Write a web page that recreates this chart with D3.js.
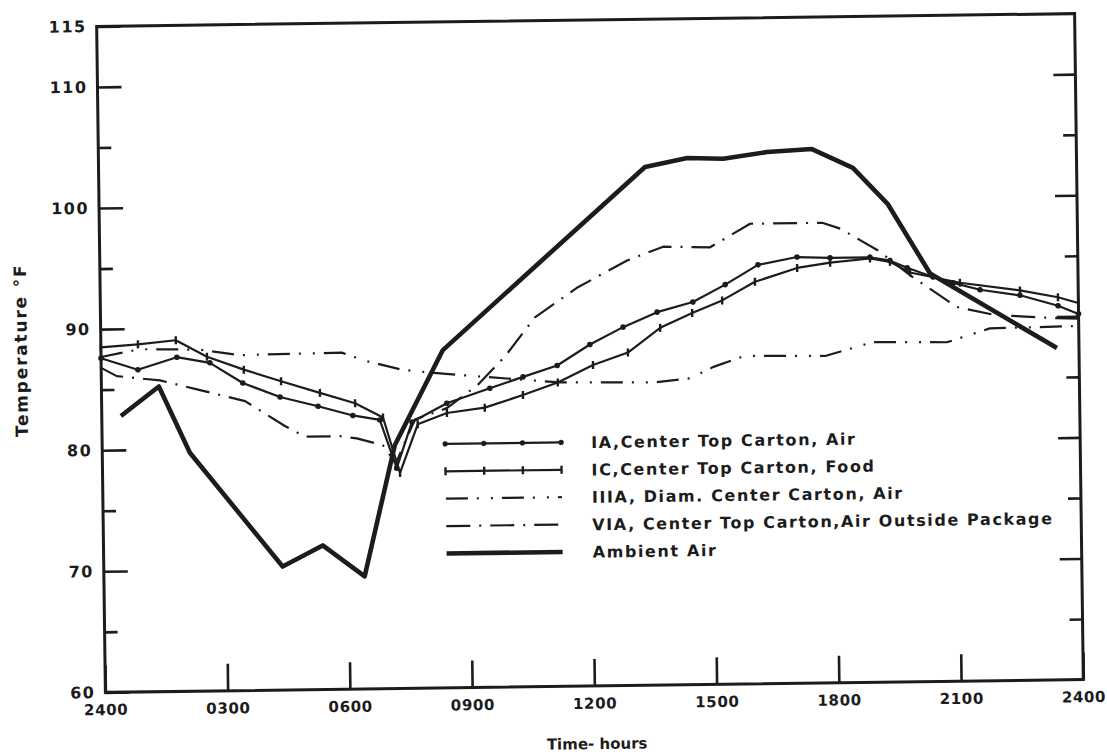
<!DOCTYPE html>
<html>
<head>
<meta charset="utf-8">
<script src="https://cdn.jsdelivr.net/npm/d3@7"></script>
<style>
  html, body { margin: 0; padding: 0; background: #fff; }
  svg { display: block; }
</style>
</head>
<body>
<svg id="chart" width="1107" height="754"></svg>
<script>
// ---- axis ticks -------------------------------------------------------
const hourTicks  = [0, 3, 6, 9, 12, 15, 18, 21, 24];
const hourLabels = ["2400", "0300", "0600", "0900", "1200", "1500", "1800", "2100", "2400"];
const tempMajorTicks = [60, 70, 80, 90, 100, 110, 115];
const tempMinorTicks = [65, 75, 85, 95, 105];
const tempRightMajor = [70, 80, 90, 100, 110];

// ---- series: time of day (hours after midnight) and temperature (°F) ----
const iaHours = [0, 0.9, 1.86, 2.67, 3.47, 4.38, 5.31, 6.16, 6.82, 7.22, 7.61, 8.47, 9.53, 10.35, 11.19, 12.0,
                 12.82, 13.66, 14.54, 15.34, 16.15, 17.11, 17.92, 18.9, 19.39, 19.81, 20.44, 20.93, 21.59, 22.57, 23.5, 24];
const iaTemps = [87.6, 86.6, 87.6, 87.1, 85.4, 84.2, 83.4, 82.6, 82.2, 78.2, 82.0, 83.5, 84.7, 85.6, 86.5, 88.2,
                 89.6, 90.8, 91.6, 93.0, 94.6, 95.2, 95.1, 95.1, 94.8, 94.2, 93.4, 92.9, 92.3, 91.8, 90.9, 90.2];

const icHours = [0, 0.91, 1.84, 2.6, 3.5, 4.41, 5.36, 6.22, 6.9, 7.3, 7.75, 8.47, 9.4, 10.34, 11.2,
                 12.07, 12.93, 13.73, 14.52, 15.26, 16.07, 17.11, 17.92, 18.9, 19.39, 19.88, 21.1, 22.57, 23.5, 24];
const icTemps = [88.5, 88.7, 89.0, 87.6, 86.5, 85.5, 84.5, 83.6, 82.4, 77.8, 81.8, 82.7, 83.1, 84.1, 85.1,
                 86.5, 87.5, 89.5, 90.7, 91.7, 93.2, 94.3, 94.7, 95.0, 94.7, 93.8, 92.9, 92.2, 91.6, 91.1];

const iiiaHours = [0, 0.96, 2.43, 3.41, 5.91, 6.48, 7.41, 8.24, 8.88, 11.25, 13.54, 14.45, 15.01, 15.8,
                   17.77, 18.95, 20.76, 21.82, 24];
const iiiaTemps = [87.7, 88.3, 88.2, 87.7, 87.8, 87.1, 86.3, 86.0, 85.8, 85.1, 85.0, 85.3, 86.2, 87.1,
                   87.0, 88.1, 88.0, 89.1, 89.2];

const viaHours = [0, 0.38, 1.44, 2.37, 3.52, 4.49, 4.98, 5.84, 6.25, 6.89, 7.2, 7.68, 8.47, 9.24, 9.91,
                  10.66, 11.7, 12.94, 13.83, 14.98, 15.97, 17.74, 18.18, 19.08, 19.95, 21.02, 21.95, 23.3, 24];
const viaTemps = [86.8, 86.1, 85.7, 84.9, 83.9, 81.8, 80.9, 80.9, 80.7, 80.1, 78.6, 82.2, 83.1, 85.0, 87.3,
                  90.5, 92.9, 95.1, 96.2, 96.1, 98.0, 98.0, 97.5, 95.7, 93.4, 90.9, 90.2, 89.9, 89.8];

const ambientHours = [0.47, 1.41, 2.15, 4.39, 5.38, 6.4, 7.18, 8.39, 13.41, 14.45, 15.33, 16.41, 17.51,
                      18.51, 19.35, 20.37, 23.46];
const ambientTemps = [82.8, 85.2, 79.7, 70.2, 71.9, 69.3, 80.1, 87.9, 102.8, 103.5, 103.4, 103.9, 104.1,
                      102.5, 99.5, 93.7, 87.4];

const legendLabels = [
  "IA,Center Top Carton, Air",
  "IC,Center Top Carton, Food",
  "IIIA, Diam. Center Carton, Air",
  "VIA, Center Top Carton,Air Outside Package",
  "Ambient Air"
];

// ---- drawing ----------------------------------------------------------
const ink = "#1c1c1c";
const font = "'DejaVu Sans', Verdana, sans-serif";

const series = [
  { hours: iaHours,      temps: iaTemps,      width: 2.2, dash: null,               marker: "dot"  },
  { hours: icHours,      temps: icTemps,      width: 2.2, dash: null,               marker: "tick" },
  { hours: iiiaHours,    temps: iiiaTemps,    width: 2.2, dash: "22,9,2,12,2,9",    marker: null   },
  { hours: viaHours,     temps: viaTemps,     width: 2.2, dash: "24,9,2,9",         marker: null   },
  { hours: ambientHours, temps: ambientTemps, width: 4.6, dash: null,               marker: null   }
];

const svg = d3.select("#chart");
const frame = { left: 101, right: 1079, top: 20, bottom: 686 };

const x = d3.scaleLinear().domain([0, 24]).range([frame.left, frame.right]);
const y = d3.scaleLinear().domain([60, 115]).range([frame.bottom, frame.top]);

// the whole sheet sits slightly tilted
const g = svg.append("g").attr("transform", "rotate(-0.75,590,353)");

function styleAxis(sel, size, spacing) {
  sel.attr("font-family", font).attr("font-size", size).attr("font-weight", "bold");
  sel.select(".domain").remove();
  sel.selectAll(".tick line").attr("stroke", ink).attr("stroke-width", 2.6);
  sel.selectAll(".tick text").attr("fill", ink).attr("letter-spacing", spacing);
}

// left axis
g.append("g")
  .attr("transform", `translate(${frame.left},0)`)
  .call(d3.axisLeft(y).tickValues(tempMajorTicks).tickSizeInner(-24).tickSizeOuter(0).tickPadding(10))
  .call(s => styleAxis(s, 16, 1.5));
g.append("g")
  .attr("transform", `translate(${frame.left},0)`)
  .call(d3.axisLeft(y).tickValues(tempMinorTicks).tickSizeInner(-13).tickSizeOuter(0).tickFormat(""))
  .call(s => styleAxis(s, 16, 0));

// right axis (ticks only)
g.append("g")
  .attr("transform", `translate(${frame.right},0)`)
  .call(d3.axisRight(y).tickValues(tempRightMajor).tickSizeInner(-22).tickSizeOuter(0).tickFormat(""))
  .call(s => styleAxis(s, 16, 0));
g.append("g")
  .attr("transform", `translate(${frame.right},0)`)
  .call(d3.axisRight(y).tickValues(tempMinorTicks).tickSizeInner(-13).tickSizeOuter(0).tickFormat(""))
  .call(s => styleAxis(s, 16, 0));

// bottom axis
const bottomAxis = g.append("g")
  .attr("transform", `translate(0,${frame.bottom})`)
  .call(d3.axisBottom(x).tickValues(hourTicks).tickSizeInner(-27).tickSizeOuter(0).tickPadding(12)
          .tickFormat((d, i) => hourLabels[i]))
  .call(s => styleAxis(s, 15, 0.6));
// keep the last hour label inside the sheet
bottomAxis.selectAll(".tick text").filter(d => d === 24).attr("text-anchor", "end").attr("dx", 22);

// frame
g.append("rect")
  .attr("x", frame.left).attr("y", frame.top)
  .attr("width", frame.right - frame.left).attr("height", frame.bottom - frame.top)
  .attr("fill", "none").attr("stroke", ink).attr("stroke-width", 3);

// axis titles
g.append("text")
  .attr("transform", "translate(27,343) rotate(-90)")
  .attr("text-anchor", "middle")
  .attr("font-family", font).attr("font-weight", "bold").attr("font-size", 17)
  .attr("letter-spacing", 1.8).attr("fill", ink)
  .text("Temperature °F");

g.append("text")
  .attr("x", 592).attr("y", 749)
  .attr("text-anchor", "middle")
  .attr("font-family", font).attr("font-weight", "bold").attr("font-size", 15)
  .attr("fill", ink)
  .text("Time- hours");

// series lines
const line = d3.line().x(d => x(d[0])).y(d => y(d[1]));

series.forEach(s => {
  const pts = d3.zip(s.hours, s.temps);
  g.append("path")
    .datum(pts)
    .attr("d", line)
    .attr("fill", "none")
    .attr("stroke", ink)
    .attr("stroke-width", s.width)
    .attr("stroke-linejoin", "round")
    .attr("stroke-dasharray", s.dash);
  if (s.marker === "dot") {
    g.append("g").selectAll("circle").data(pts).join("circle")
      .attr("cx", d => x(d[0])).attr("cy", d => y(d[1])).attr("r", 2.8).attr("fill", ink);
  } else if (s.marker === "tick") {
    g.append("g").selectAll("path").data(pts).join("path")
      .attr("d", d => `M${x(d[0])},${y(d[1]) - 4}V${y(d[1]) + 4}`)
      .attr("stroke", ink).attr("stroke-width", 2.4);
  }
});

// legend
const legend = { x0: 444, x1: 560, textX: 590, top: 442, step: 27.4 };
legendLabels.forEach((label, i) => {
  const s = series[i];
  const ly = legend.top + i * legend.step;
  g.append("line")
    .attr("x1", legend.x0).attr("x2", legend.x1).attr("y1", ly).attr("y2", ly)
    .attr("stroke", ink).attr("stroke-width", s.width).attr("stroke-dasharray", s.dash);
  const marks = d3.range(4).map(k => legend.x0 + k * (legend.x1 - legend.x0) / 3);
  if (s.marker === "dot") {
    g.append("g").selectAll("circle").data(marks).join("circle")
      .attr("cx", d => d).attr("cy", ly).attr("r", 2.6).attr("fill", ink);
  } else if (s.marker === "tick") {
    g.append("g").selectAll("path").data(marks).join("path")
      .attr("d", d => `M${d},${ly - 4}V${ly + 4}`)
      .attr("stroke", ink).attr("stroke-width", 2.4);
  }
  g.append("text")
    .attr("x", legend.textX).attr("y", ly + 6)
    .attr("font-family", font).attr("font-weight", "bold").attr("font-size", 16)
    .attr("letter-spacing", 1.6).attr("fill", ink)
    .text(label);
});
</script>
</body>
</html>
